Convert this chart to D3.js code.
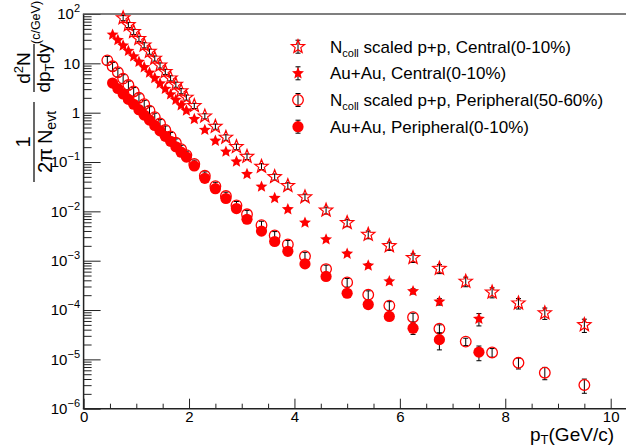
<!DOCTYPE html>
<html><head><meta charset="utf-8">
<script src="https://cdn.jsdelivr.net/npm/d3@7"></script>
<style>
body{margin:0;background:#fff}
svg{display:block;font-family:"Liberation Sans",Arial,Helvetica,sans-serif}
</style>
</head><body>
<svg id="chart" width="626" height="448"></svg>
<script>
// ---------------- data ----------------
const ptAuAu = [0.55,0.65,0.75,0.85,0.95,1.05,1.15,1.25,1.35,1.45,1.55,1.65,1.75,1.85,1.95,
  2.1,2.3,2.5,2.7,2.9,3.1,3.375,3.625,3.875,4.2,4.6,5.0,5.4,5.8,6.25,6.75,7.5];
const ptPPCentral = [0.75,0.85,0.95,1.05,1.15,1.25,1.35,1.45,1.55,1.65,1.75,1.85,1.95,
  2.1,2.3,2.5,2.7,2.9,3.1,3.375,3.625,3.875,4.2,4.6,5.0,5.4,5.8,6.25,6.75,7.25,7.75,8.25,8.75,9.5];
const ptPPPeripheral = [0.45,0.55,0.65,0.75,0.85,0.95,1.05,1.15,1.25,1.35,1.45,1.55,1.65,1.75,1.85,1.95,
  2.1,2.3,2.5,2.7,2.9,3.1,3.375,3.625,3.875,4.2,4.6,5.0,5.4,5.8,6.25,6.75,7.25,7.75,8.25,8.75,9.5];

const ppCentral = [83.2,60.3,43.7,31.6,23.4,17.4,12.6,9.12,6.76,5.01,3.72,2.75,2.04,
  1.38,0.851,0.525,0.316,0.204,0.129,0.0813,0.0501,0.0331,0.0195,0.0105,0.00589,0.00339,0.00200,
  0.00115,0.000692,0.000380,0.000229,0.000138,0.0000871,0.0000501];
const ppCentralRelErr = [0.12,0.12,0.12,0.12,0.12,0.12,0.12,0.12,0.12,0.12,0.12,0.12,0.12,
  0.12,0.12,0.12,0.13,0.13,0.13,0.14,0.14,0.15,0.15,0.16,0.17,0.18,0.19,0.2,0.21,0.22,0.23,0.24,0.26,0.3];

const auauCentral = [38.0,29.5,22.9,17.8,13.8,10.7,8.32,6.46,5.01,3.89,3.02,2.34,1.82,1.41,1.10,
  0.741,0.447,0.269,0.162,0.102,0.0569,0.0316,0.0186,0.0110,0.00589,0.00269,0.00138,0.000794,
  0.000380,0.000240,0.000148,0.0000661];
const auauCentralRelErr = [0.03,0.03,0.03,0.03,0.03,0.03,0.03,0.03,0.03,0.03,0.03,0.03,0.03,0.03,0.03,
  0.03,0.03,0.03,0.04,0.04,0.04,0.05,0.05,0.06,0.07,0.08,0.09,0.1,0.11,0.12,0.15,0.28];

const ppPeripheral = [11.5,8.71,6.61,4.90,3.63,2.69,2.00,1.48,1.10,0.813,0.603,0.447,0.331,0.245,0.182,0.138,
  0.0912,0.0525,0.0324,0.0204,0.0132,0.00871,0.00525,0.00324,0.00214,0.00123,0.000676,0.000363,
  0.000204,0.000123,0.0000716,0.0000417,0.0000229,0.0000138,0.00000851,0.00000537,0.00000302];
const ppPeripheralRelErr = [0.2,0.2,0.2,0.2,0.2,0.2,0.2,0.2,0.2,0.2,0.2,0.2,0.2,0.2,0.2,0.2,
  0.2,0.2,0.2,0.2,0.2,0.2,0.2,0.2,0.2,0.2,0.2,0.2,0.2,0.2,0.2,0.2,0.17,0.2,0.25,0.28,0.32];

const auauPeripheral = [3.98,3.09,2.40,1.86,1.48,1.15,0.891,0.708,0.550,0.427,0.331,0.263,0.204,0.158,0.126,
  0.0832,0.0468,0.0288,0.0182,0.0114,0.00692,0.00398,0.00245,0.00155,0.000861,0.000479,0.000219,
  0.000129,0.0000741,0.0000427,0.0000251,0.0000140];
const auauPeripheralRelErr = [0.03,0.03,0.03,0.03,0.03,0.03,0.03,0.03,0.03,0.03,0.03,0.03,0.03,0.03,0.03,
  0.03,0.03,0.04,0.04,0.04,0.05,0.05,0.05,0.06,0.06,0.07,0.08,0.1,0.12,0.25,0.38,0.33];

const xTickValues = [0,2,4,6,8,10];
const xMinorTickValues = [0.5,1,1.5,2.5,3,3.5,4.5,5,5.5,6.5,7,7.5,8.5,9,9.5];
const yTickExponents = [2,1,0,-1,-2,-3,-4,-5,-6];
const yTickLabels = [["10","2"],["10",""],["1",""],["10","\u22121"],["10","\u22122"],["10","\u22123"],["10","\u22124"],["10","\u22125"],["10","\u22126"]];

const legendLabels = [
  {pre:"N", sub:"coll", post:" scaled p+p, Central(0-10%)"},
  {pre:"Au+Au, Central(0-10%)", sub:"", post:""},
  {pre:"N", sub:"coll", post:" scaled p+p, Peripheral(50-60%)"},
  {pre:"Au+Au, Peripheral(0-10%)", sub:"", post:""}
];

// ---------------- drawing ----------------
const svg = d3.select("#chart");
const RED = "#ff0000";
const AX = "#222";

const x = d3.scaleLinear().domain([0,10]).range([83.6,610.7]);
const y = d3.scaleLog().domain([1e-6,1e2]).range([408.7,14]);
const x0 = x(0), yb = y(1e-6), yt = y(1e2), xr = 626;

function starPath(R, ratio){
  const r = R*ratio; let p = "";
  for(let i=0;i<10;i++){
    const a = -Math.PI/2 + i*Math.PI/5, rad = (i%2)? r : R;
    p += (i? "L":"M") + (rad*Math.cos(a)).toFixed(2) + "," + (rad*Math.sin(a)).toFixed(2);
  }
  return p + "Z";
}
const markerStyles = [
  {kind:"star", fill:"none", R:7, ratio:0.42, sw:1.2},
  {kind:"star", fill:RED, R:6.3, ratio:0.45, sw:0},
  {kind:"circle", fill:"none", R:5.3, sw:1.3},
  {kind:"circle", fill:RED, R:5.6, sw:0}
];
function drawMarker(g, st){
  if(st.kind==="star"){
    g.append("path").attr("d", starPath(st.R, st.ratio))
      .attr("fill", st.fill).attr("stroke", RED).attr("stroke-width", st.sw || 0.01)
      .attr("stroke-linejoin","miter");
  } else {
    g.append("circle").attr("r", st.R).attr("fill", st.fill)
      .attr("stroke", st.sw? RED : "none").attr("stroke-width", st.sw);
  }
}

// axes: ticks
const gx = svg.append("g").attr("transform", `translate(0,${yb})`);
gx.call(d3.axisBottom(x).tickValues(xMinorTickValues).tickSizeInner(-5).tickSizeOuter(0).tickFormat(""));
const gx2 = svg.append("g").attr("transform", `translate(0,${yb})`);
gx2.call(d3.axisBottom(x).tickValues(xTickValues).tickSizeInner(-10).tickSizeOuter(0).tickPadding(3).tickFormat(d3.format("d")));
[gx,gx2].forEach(g=>{ g.select(".domain").remove(); g.selectAll("line").attr("stroke",AX); });
gx2.selectAll("text").attr("font-size",15).attr("fill","#000").attr("font-family","Liberation Sans, Arial, sans-serif");

const yMinor = [];
yTickExponents.slice(1).forEach(e=>{ for(let m=2;m<=9;m++) yMinor.push(m*Math.pow(10,e)); });
const gy = svg.append("g").attr("transform", `translate(${x0},0)`);
gy.call(d3.axisLeft(y).tickValues(yMinor).tickSizeInner(-8).tickSizeOuter(0).tickFormat(""));
const gy2 = svg.append("g").attr("transform", `translate(${x0},0)`);
gy2.call(d3.axisLeft(y).tickValues(yTickExponents.map(e=>Math.pow(10,e))).tickSizeInner(-17).tickSizeOuter(0).tickFormat(""));
[gy,gy2].forEach(g=>{ g.select(".domain").remove(); g.selectAll("line").attr("stroke",AX); });

// y tick labels with superscripts
yTickExponents.forEach((e,i)=>{
  const t = svg.append("text").attr("x", 80).attr("y", y(Math.pow(10,e)) + 5.3)
    .attr("text-anchor","end").attr("font-size",15).attr("fill","#000");
  t.append("tspan").text(yTickLabels[i][0]);
  if(yTickLabels[i][1]) t.append("tspan").attr("dy",-7).attr("font-size",11).text(yTickLabels[i][1]);
});

// frame lines
svg.append("line").attr("x1",x0).attr("x2",x0).attr("y1",yt).attr("y2",yb).attr("stroke",AX).attr("stroke-width",1.5);
svg.append("line").attr("x1",x0-0.75).attr("x2",xr).attr("y1",yb).attr("y2",yb).attr("stroke",AX).attr("stroke-width",1.5);
svg.append("line").attr("x1",x0-0.75).attr("x2",xr).attr("y1",yt).attr("y2",yt).attr("stroke","#555").attr("stroke-width",1.5);

// data series
const series = [
  {pt:ptPPCentral, v:ppCentral, e:ppCentralRelErr, st:markerStyles[0]},
  {pt:ptAuAu, v:auauCentral, e:auauCentralRelErr, st:markerStyles[1]},
  {pt:ptPPPeripheral, v:ppPeripheral, e:ppPeripheralRelErr, st:markerStyles[2]},
  {pt:ptAuAu, v:auauPeripheral, e:auauPeripheralRelErr, st:markerStyles[3]}
];
const cap = 2.5;
series.forEach(s=>{
  const g = svg.append("g");
  s.pt.forEach((p,i)=>{
    const cx = x(p), v = s.v[i], hi = y(v*(1+s.e[i])), lo = y(v*(1-s.e[i]));
    g.append("line").attr("x1",cx).attr("x2",cx).attr("y1",hi).attr("y2",lo).attr("stroke","#000").attr("stroke-width",1);
    g.append("line").attr("x1",cx-cap).attr("x2",cx+cap).attr("y1",hi).attr("y2",hi).attr("stroke","#000").attr("stroke-width",1);
    g.append("line").attr("x1",cx-cap).attr("x2",cx+cap).attr("y1",lo).attr("y2",lo).attr("stroke","#000").attr("stroke-width",1);
  });
  s.pt.forEach((p,i)=>{
    const m = g.append("g").attr("transform",`translate(${x(p)},${y(s.v[i])})`);
    drawMarker(m, s.st);
  });
});

// legend
const legY = [46.7,73.3,100,126.7];
legendLabels.forEach((L,i)=>{
  const cy = legY[i], cx = 298;
  svg.append("line").attr("x1",cx).attr("x2",cx).attr("y1",cy-6.5).attr("y2",cy+6.5).attr("stroke","#000");
  svg.append("line").attr("x1",cx-cap).attr("x2",cx+cap).attr("y1",cy-6.5).attr("y2",cy-6.5).attr("stroke","#000");
  svg.append("line").attr("x1",cx-cap).attr("x2",cx+cap).attr("y1",cy+6.5).attr("y2",cy+6.5).attr("stroke","#000");
  const m = svg.append("g").attr("transform",`translate(${cx},${cy})`);
  drawMarker(m, markerStyles[i]);
  const t = svg.append("text").attr("x",330).attr("y",cy+6).attr("font-size",17).attr("fill","#000");
  t.append("tspan").text(L.pre);
  if(L.sub){
    t.append("tspan").attr("dy",4).attr("font-size",11).text(L.sub);
    t.append("tspan").attr("dy",-4).text(L.post);
  }
});

// x title
const xt = svg.append("text").attr("x",530).attr("y",441).attr("font-size",19).attr("fill","#000");
xt.append("tspan").text("p");
xt.append("tspan").attr("dy",3).attr("font-size",13).text("T");
xt.append("tspan").attr("dy",-3).text("(GeV/c)");

// y title (rotated)
function rtext(sx, sy, anchor, size){
  return svg.append("text").attr("transform",`translate(${sx},${sy}) rotate(-90)`)
    .attr("text-anchor",anchor).attr("font-size",size).attr("fill","#000");
}
const f1c = 142, f2c = 68, barX = 34;
rtext(30, f1c, "middle", 20).text("1");
svg.append("line").attr("x1",barX).attr("x2",barX).attr("y1",f1c-40).attr("y2",f1c+40).attr("stroke","#000").attr("stroke-width",1.2);
const d1 = rtext(52, f1c, "middle", 20);
d1.append("tspan").text("2\u03c0\u2009N");
d1.append("tspan").attr("dy",4).attr("font-size",14).text("evt");

const n2 = rtext(30, f2c, "middle", 19);
n2.append("tspan").text("d");
n2.append("tspan").attr("dy",-7).attr("font-size",13).text("2");
n2.append("tspan").attr("dy",7).text("N");
svg.append("line").attr("x1",barX).attr("x2",barX).attr("y1",f2c-24).attr("y2",f2c+24).attr("stroke","#000").attr("stroke-width",1.2);
const d2 = rtext(50, f2c, "middle", 19);
d2.append("tspan").text("dp");
d2.append("tspan").attr("dy",4).attr("font-size",13).text("T");
d2.append("tspan").attr("dy",-4).text("dy");
rtext(40, 44, "start", 12.5).text("(c/GeV)");
</script>
</body></html>
